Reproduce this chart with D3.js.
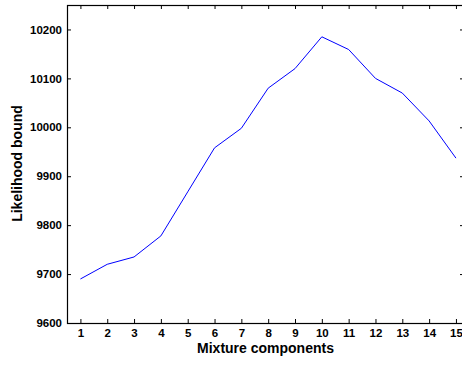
<!DOCTYPE html>
<html>
<head>
<meta charset="utf-8">
<script src="https://cdn.jsdelivr.net/npm/d3@7"></script>
<style>
  body { margin: 0; background: #fff; }
  text { font-family: "Liberation Sans", Arial, sans-serif; font-weight: bold; fill: #000; }
</style>
</head>
<body>
<div id="chart-area"></div>
<script>
// data
var components = [1, 2, 3, 4, 5, 6, 7, 8, 9, 10, 11, 12, 13, 14, 15];
var bound = [9690, 9720, 9735, 9778, 9868, 9958, 9998, 10080, 10120, 10185, 10159, 10100, 10070, 10013, 9937];
var yTicks = [9600, 9700, 9800, 9900, 10000, 10100, 10200];

var W = 462, H = 365;
var box = { left:67, top:5, right:464, bottom:323 };

var svg = d3.select("#chart-area")
    .append("svg")
        .attr("width", W)
        .attr("height", H);

// scales (axes limits like the matlab figure)
var x = d3.scaleLinear()
    .domain([0.5, 15.3])
    .range([box.left, box.right]);

var y = d3.scaleLinear()
    .domain([9600, 10250])
    .range([box.bottom, box.top]);

// bottom axis, ticks pointing in
var xAxisGroup = svg.append("g")
    .attr("transform", "translate(0," + box.bottom + ")")
    .call(d3.axisBottom(x).tickValues(components).tickSize(-4).tickPadding(6).tickFormat(d3.format("d")));

// top ticks only
svg.append("g")
    .attr("transform", "translate(0," + box.top + ")")
    .call(d3.axisTop(x).tickValues(components).tickSize(-4).tickFormat(""));

// left axis
var yAxisGroup = svg.append("g")
    .attr("transform", "translate(" + box.left + ",0)")
    .call(d3.axisLeft(y).tickValues(yTicks).tickSize(-4).tickPadding(5).tickFormat(d3.format("d")));

// right ticks only
svg.append("g")
    .attr("transform", "translate(" + box.right + ",0)")
    .call(d3.axisRight(y).tickValues(yTicks).tickSize(-4).tickFormat(""));

svg.selectAll(".domain").remove();
svg.selectAll(".tick line").attr("stroke", "#000");
svg.selectAll(".tick text")
    .attr("font-size", "11.5px")
    .attr("font-family", "Liberation Sans, Arial, sans-serif")
    .attr("font-weight", "bold");

// axes box
svg.append("rect")
    .attr("x", box.left + 0.5)
    .attr("y", box.top + 0.5)
    .attr("width", box.right - box.left)
    .attr("height", box.bottom - box.top)
    .attr("fill", "none")
    .attr("stroke", "#000")
    .attr("stroke-width", 1.2);

// the line
var line = d3.line()
    .x(function(d, i){ return x(components[i]); })
    .y(function(d){ return y(d); });

svg.append("path")
    .datum(bound)
    .attr("d", line)
    .attr("fill", "none")
    .attr("stroke", "#0000ff")
    .attr("stroke-width", 1);

// labels
svg.append("text")
    .attr("x", (box.left + box.right) / 2)
    .attr("y", 353)
    .attr("font-size", "14px")
    .attr("text-anchor", "middle")
    .text("Mixture components");

svg.append("text")
    .attr("transform", "rotate(-90)")
    .attr("x", -163.5)
    .attr("y", 22)
    .attr("font-size", "14px")
    .attr("text-anchor", "middle")
    .text("Likelihood bound");
</script>
</body>
</html>
